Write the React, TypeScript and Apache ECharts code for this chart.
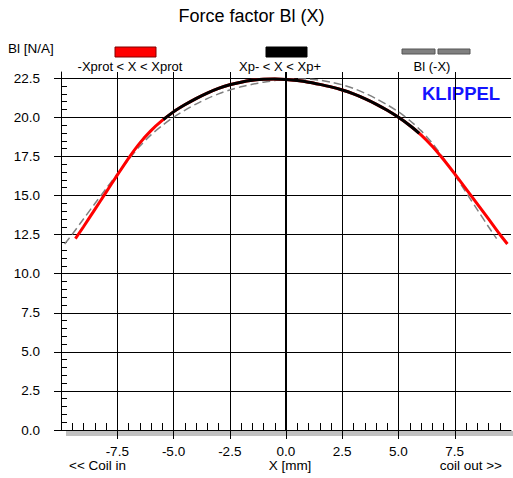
import React, { useEffect, useRef } from "react";
import * as echarts from "echarts";

// Measured Bl(X) curve, full range (-Xprot < X < Xprot)
const xsFull = [-9.36, -9, -8.5, -8, -7.5, -7, -6.5, -6, -5.5, -5, -4.5, -4, -3.5, -3, -2.5, -2, -1.5, -1, -0.5, 0, 0.5, 1, 1.5, 2, 2.5, 3, 3.5, 4, 4.5, 5, 5.5, 6, 6.5, 7, 7.5, 8, 8.5, 9, 9.5, 9.84];
const blFull = [12.24, 13.0, 14.1, 15.2, 16.3, 17.38, 18.35, 19.15, 19.8, 20.35, 20.8, 21.2, 21.55, 21.85, 22.08, 22.25, 22.37, 22.44, 22.45, 22.42, 22.35, 22.25, 22.11, 21.95, 21.75, 21.5, 21.2, 20.85, 20.45, 20.0, 19.48, 18.88, 18.15, 17.3, 16.38, 15.43, 14.47, 13.5, 12.52, 11.9];

// Inner range (Xp- < X < Xp+)
const xsInner = [-5.45, -5, -4.5, -4, -3.5, -3, -2.5, -2, -1.5, -1, -0.5, 0, 0.5, 1, 1.5, 2, 2.5, 3, 3.5, 4, 4.5, 5, 5.5, 5.92];
const blInner = [19.86, 20.35, 20.8, 21.2, 21.55, 21.85, 22.08, 22.25, 22.37, 22.44, 22.45, 22.42, 22.35, 22.25, 22.11, 21.95, 21.75, 21.5, 21.2, 20.85, 20.45, 20.0, 19.48, 18.98];

// Mirrored curve Bl(-X)
const xsMirror = [-9.84, -9.5, -9, -8.5, -8, -7.5, -7, -6.5, -6, -5.5, -5, -4.5, -4, -3.5, -3, -2.5, -2, -1.5, -1, -0.5, 0, 0.5, 1, 1.5, 2, 2.5, 3, 3.5, 4, 4.5, 5, 5.5, 6, 6.5, 7, 7.5, 8, 8.5, 9, 9.36];
const blMirror = [11.9, 12.52, 13.5, 14.47, 15.43, 16.38, 17.3, 18.15, 18.88, 19.48, 20.0, 20.45, 20.85, 21.2, 21.5, 21.75, 21.95, 22.11, 22.25, 22.35, 22.42, 22.45, 22.44, 22.37, 22.25, 22.08, 21.85, 21.55, 21.2, 20.8, 20.35, 19.8, 19.15, 18.35, 17.38, 16.3, 15.2, 14.1, 13.0, 12.24];

const xTickValues = [-7.5, -5, -2.5, 0, 2.5, 5, 7.5];
const yTickValues = [0, 2.5, 5, 7.5, 10, 12.5, 15, 17.5, 20, 22.5];

const seriesNames = ["-Xprot < X < Xprot", "Xp- < X < Xp+", "Bl (-X)"];

const FONT = '"Liberation Sans", Arial, Helvetica, sans-serif';

export default function App() {
  const ref = useRef<HTMLDivElement>(null);
  useEffect(() => {
    if (!ref.current) return;
    const chart = echarts.init(ref.current, null, { renderer: "svg" });
    const pairs = (xs: number[], ys: number[]) => xs.map((x, i) => [x, ys[i]]);
    const option: any = {
      animation: false,
      backgroundColor: "#ffffff",
      textStyle: { fontFamily: FONT },
      grid: { left: 61, right: 2, top: 72, bottom: 48, containLabel: false },
      xAxis: {
        type: "value",
        min: -10,
        max: 10,
        interval: 2.5,
        position: "bottom",
        axisLine: { show: true, onZero: false, lineStyle: { color: "#000", width: 1 } },
        axisTick: { show: true, length: 9, customValues: xTickValues, lineStyle: { color: "#000" } },
        minorTick: { show: true, splitNumber: 5, length: -7, lineStyle: { color: "#000", width: 1 } },
        axisLabel: {
          margin: 14,
          color: "#000",
          fontSize: 13.5,
          fontFamily: FONT,
          customValues: xTickValues,
          formatter: (v: number) => (Math.abs(v) >= 10 ? "" : v.toFixed(1)),
        },
        splitLine: { show: true, lineStyle: { color: "#000", width: 1 } },
      },
      yAxis: {
        type: "value",
        min: 0,
        max: 22.9,
        interval: 2.5,
        position: "left",
        axisLine: { show: true, onZero: false, lineStyle: { color: "#000", width: 1 } },
        axisTick: { show: true, length: 7, customValues: yTickValues, lineStyle: { color: "#000" } },
        minorTick: { show: true, splitNumber: 5, length: -6, lineStyle: { color: "#000", width: 1 } },
        axisLabel: {
          margin: 21,
          color: "#000",
          fontSize: 13.5,
          fontFamily: FONT,
          customValues: yTickValues,
          formatter: (v: number) => (Math.abs(v / 2.5 - Math.round(v / 2.5)) > 1e-6 ? "" : v.toFixed(1)),
        },
        splitLine: { show: true, lineStyle: { color: "#000", width: 1 } },
      },
      series: [
        {
          name: seriesNames[2],
          type: "line",
          data: pairs(xsMirror, blMirror),
          symbol: "none",
          smooth: 0.3,
          z: 2,
          lineStyle: { color: "#808080", width: 1.5, type: [8, 4] },
          markLine: {
            silent: true,
            symbol: ["none", "none"],
            label: { show: false },
            lineStyle: { color: "#000", width: 2, type: "solid" },
            data: [{ xAxis: 0 }],
          },
        },
        {
          name: seriesNames[0],
          type: "line",
          data: pairs(xsFull, blFull),
          symbol: "none",
          smooth: 0.3,
          z: 3,
          lineStyle: { color: "#ff0000", width: 3 },
        },
        {
          name: seriesNames[1],
          type: "line",
          data: pairs(xsInner, blInner),
          symbol: "none",
          smooth: 0.3,
          z: 4,
          lineStyle: { color: "#000000", width: 3 },
        },
      ],
      graphic: [
        {
          type: "rect",
          z: -1,
          shape: { x: 66, y: 431, width: 447, height: 5 },
          style: { fill: "#c0c0c0" },
        },
        {
          type: "text",
          x: 251.5,
          y: 16,
          style: { text: "Force factor Bl (X)", fontSize: 18, fontFamily: FONT, fill: "#000", align: "center", verticalAlign: "middle" },
        },
        {
          type: "text",
          x: 8,
          y: 48,
          style: { text: "Bl [N/A]", fontSize: 13.5, fontFamily: FONT, fill: "#000", align: "left", verticalAlign: "middle" },
        },
        {
          type: "rect",
          shape: { x: 115, y: 47, width: 41, height: 10 },
          style: { fill: "#ff0000", stroke: "#800000", lineWidth: 1 },
        },
        {
          type: "text",
          x: 130,
          y: 66.5,
          style: { text: seriesNames[0], fontSize: 13, fontFamily: FONT, fill: "#000", align: "center", verticalAlign: "middle" },
        },
        {
          type: "rect",
          shape: { x: 266, y: 47, width: 41, height: 10 },
          style: { fill: "#000000", stroke: "#000", lineWidth: 1 },
        },
        {
          type: "text",
          x: 280,
          y: 66.5,
          style: { text: seriesNames[1], fontSize: 13, fontFamily: FONT, fill: "#000", align: "center", verticalAlign: "middle" },
        },
        {
          type: "rect",
          shape: { x: 402, y: 49, width: 33, height: 5 },
          style: { fill: "#808080", stroke: "#555", lineWidth: 1 },
        },
        {
          type: "rect",
          shape: { x: 438, y: 49, width: 32, height: 5 },
          style: { fill: "#808080", stroke: "#555", lineWidth: 1 },
        },
        {
          type: "text",
          x: 432,
          y: 66.5,
          style: { text: seriesNames[2], fontSize: 13, fontFamily: FONT, fill: "#000", align: "center", verticalAlign: "middle" },
        },
        {
          type: "text",
          x: 422,
          y: 93,
          style: { text: "KLIPPEL", fontSize: 18.5, fontWeight: "bold", fontFamily: FONT, fill: "#1414ff", align: "left", verticalAlign: "middle" },
        },
        {
          type: "text",
          x: 69,
          y: 465,
          style: { text: "<< Coil in", fontSize: 13.5, fontFamily: FONT, fill: "#000", align: "left", verticalAlign: "middle" },
        },
        {
          type: "text",
          x: 290,
          y: 465,
          style: { text: "X [mm]", fontSize: 13.5, fontFamily: FONT, fill: "#000", align: "center", verticalAlign: "middle" },
        },
        {
          type: "text",
          x: 502,
          y: 465,
          style: { text: "coil out >>", fontSize: 13.5, fontFamily: FONT, fill: "#000", align: "right", verticalAlign: "middle" },
        },
      ],
    };
    chart.setOption(option);
    return () => chart.dispose();
  }, []);
  return <div ref={ref} style={{ position: "absolute", left: 0, top: 0, width: 513, height: 478 }} />;
}
